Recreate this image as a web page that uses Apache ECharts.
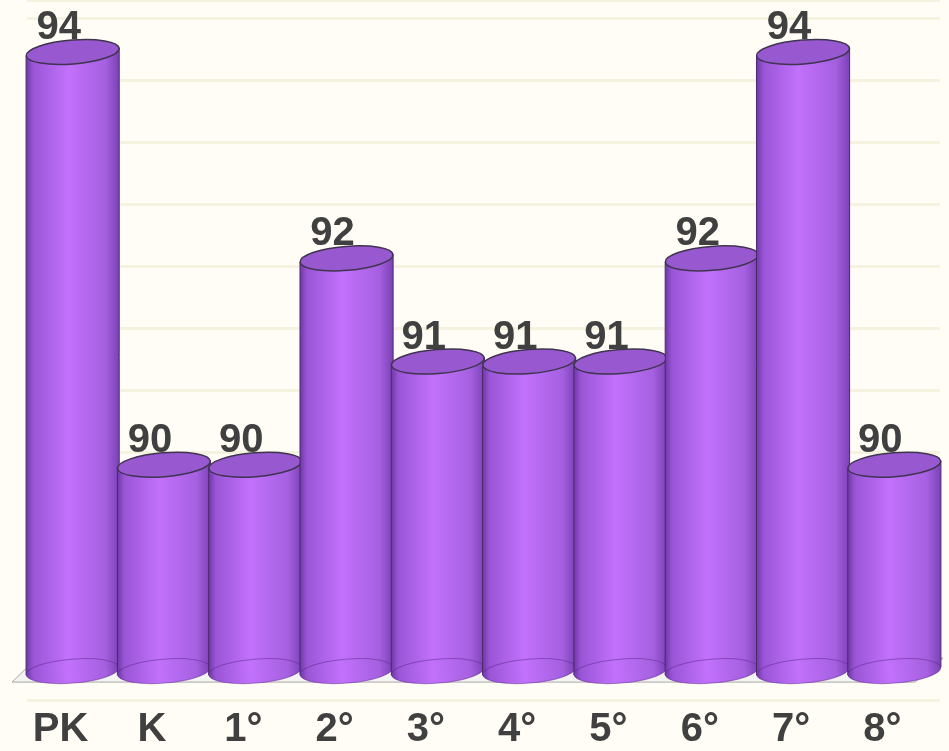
<!DOCTYPE html>
<html>
<head>
<meta charset="utf-8">
<script src="https://cdn.jsdelivr.net/npm/echarts@6/dist/echarts.min.js"></script>
<style>
    html, body { margin: 0; padding: 0; background: #fffdf5; }
    #chart { width: 949px; height: 751px; }
</style>
</head>
<body>
<div id="chart"></div>
<script>
// categories and values
const categories = ['PK', 'K', '1°', '2°', '3°', '4°', '5°', '6°', '7°', '8°'];
const scores = [94, 90, 90, 92, 91, 91, 91, 92, 94, 90];
const baseValue = 88;

const chart = echarts.init(document.getElementById('chart'));

const bodyColor = new echarts.graphic.LinearGradient(0, 0, 1, 0, [
    { offset: 0, color: '#6b36a3' },
    { offset: 0.08, color: '#9a55d6' },
    { offset: 0.45, color: '#c271fc' },
    { offset: 0.85, color: '#a560e0' },
    { offset: 1, color: '#7a40b4' }
]);

function renderCylinder(params, api) {
    const idx = api.value(0);
    const top = api.coord([idx, api.value(1)]);
    const base = api.coord([idx, baseValue]);
    const rx = api.size([1, 0])[0] * 0.51;
    const ry = 12;
    const tilt = 4;
    const cx = top[0];
    return {
        type: 'group',
        children: [
            {
                type: 'polygon',
                shape: {
                    points: [
                        [cx - rx, top[1] + tilt], [cx + rx, top[1] - tilt],
                        [cx + rx, base[1] - tilt], [cx - rx, base[1] + tilt]
                    ]
                },
                style: { fill: bodyColor, stroke: '#4a2a6a', lineWidth: 1 }
            },
            {
                type: 'ellipse',
                x: cx, y: base[1], rotation: 0.08,
                shape: { cx: 0, cy: 0, rx: rx, ry: ry },
                style: { fill: bodyColor, stroke: 'rgba(90,40,140,0.5)', lineWidth: 1 }
            },
            {
                type: 'ellipse',
                x: cx, y: top[1], rotation: 0.08,
                shape: { cx: 0, cy: 0, rx: rx, ry: ry },
                style: { fill: '#9858cf', stroke: '#3f3450', lineWidth: 1.5 }
            },
            {
                type: 'text',
                x: cx - 14, y: top[1] - ry + 8,
                style: {
                    text: String(api.value(1)),
                    fill: '#404040',
                    font: 'bold 40px "Liberation Sans", Arial, sans-serif',
                    align: 'center',
                    verticalAlign: 'bottom'
                }
            }
        ]
    };
}

function renderFloor(params, api) {
    const cs = params.coordSys;
    const y = api.coord([0, baseValue])[1];
    return {
        type: 'polygon',
        silent: true,
        shape: {
            points: [
                [cs.x - 15, y + 11], [cs.x + cs.width - 25, y + 11],
                [cs.x + cs.width + 3, y - 13], [cs.x + 10, y - 13]
            ]
        },
        style: { fill: '#f4f4f2', stroke: '#a8a8a8', lineWidth: 1 }
    };
}

chart.setOption({
    backgroundColor: '#fffdf5',
    animation: false,
    grid: { left: 27, right: 9, top: 0, bottom: 51 },
    xAxis: {
        type: 'category',
        data: categories,
        axisLine: { show: false },
        axisTick: { show: false },
        axisLabel: {
            margin: 10,
            color: '#404040',
            fontSize: 40,
            fontWeight: 'bold',
            fontFamily: '"Liberation Sans", Arial, sans-serif',
            padding: [0, 24, 0, 0]
        }
    },
    yAxis: [
        {
            type: 'value',
            min: 87.72,
            max: 94.504,
            show: false
        },
        {
            type: 'value',
            min: 0,
            max: 700,
            interval: 62,
            axisLabel: { show: false },
            axisLine: { show: false },
            axisTick: { show: false },
            splitLine: { show: true, lineStyle: { color: '#f5f2df', width: 3 } }
        }
    ],
    series: [
        {
            type: 'custom',
            renderItem: renderFloor,
            data: [[0, baseValue]],
            z: 1
        },
        {
            type: 'custom',
            renderItem: renderCylinder,
            data: scores.map((v, i) => [i, v]),
            z: 2
        }
    ]
});
</script>
</body>
</html>
